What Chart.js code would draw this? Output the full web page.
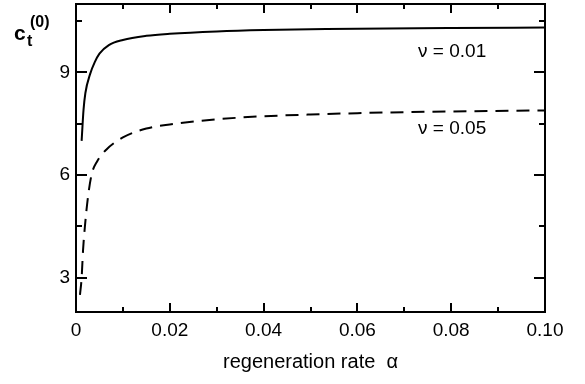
<!DOCTYPE html>
<html>
<head>
<meta charset="utf-8">
<script src="https://cdn.jsdelivr.net/npm/chart.js@4.4.1/dist/chart.umd.min.js"></script>
<style>
  html, body { margin: 0; padding: 0; background: #fff; }
  #wrap { width: 585px; height: 384px; }
</style>
</head>
<body>
<div id="wrap"><canvas id="grafico"></canvas></div>
<script>
// valores
const alphaSolid = [0.0012, 0.0016, 0.002, 0.003, 0.004, 0.005, 0.007, 0.01, 0.015, 0.02, 0.03, 0.04, 0.05, 0.06, 0.08, 0.1];
const cSolid     = [7.0, 7.9, 8.4, 8.95, 9.3, 9.55, 9.8, 9.95, 10.07, 10.13, 10.2, 10.24, 10.26, 10.28, 10.3, 10.31];

const alphaDashed = [0.00085, 0.0012, 0.0015, 0.0019, 0.0025, 0.0033, 0.0045, 0.0065, 0.01, 0.015, 0.02, 0.03, 0.04, 0.05, 0.06, 0.07, 0.08, 0.1];
const cDashed     = [2.5, 3.0, 3.8, 4.5, 5.3, 6.0, 6.4, 6.75, 7.1, 7.36, 7.48, 7.63, 7.72, 7.77, 7.81, 7.84, 7.86, 7.89];

const xTicks = [0, 0.02, 0.04, 0.06, 0.08, 0.10];
const xMinorTicks = [0.01, 0.03, 0.05, 0.07, 0.09];
const yTicks = [3, 6, 9];
const yMinorTicks = [4.5, 7.5, 10.5];

const seriesLabels = ['\u03BD = 0.01', '\u03BD = 0.05'];
const labelPos = [{ x: 0.0802, y: 9.6 }, { x: 0.0802, y: 7.36 }];

const FONT = '"Liberation Sans", Arial, Helvetica, sans-serif';

const pts = (xs, ys) => xs.map((x, i) => ({ x: x, y: ys[i] }));

// moldura, marcas internas e textos
const frame = {
  id: 'frame',
  afterDraw(chart) {
    const c = chart.ctx, a = chart.chartArea;
    const sx = chart.scales.x, sy = chart.scales.y;
    c.save();
    c.strokeStyle = '#000';
    c.lineWidth = 2;
    c.strokeRect(a.left, a.top, a.right - a.left, a.bottom - a.top);
    const tickX = (vals, len) => vals.forEach(v => {
      const p = Math.round(sx.getPixelForValue(v));
      c.beginPath();
      c.moveTo(p, a.bottom); c.lineTo(p, a.bottom - len);
      c.moveTo(p, a.top); c.lineTo(p, a.top + len);
      c.stroke();
    });
    const tickY = (vals, len) => vals.forEach(v => {
      const p = Math.round(sy.getPixelForValue(v));
      c.beginPath();
      c.moveTo(a.left, p); c.lineTo(a.left + len, p);
      c.moveTo(a.right, p); c.lineTo(a.right - len, p);
      c.stroke();
    });
    tickX(xTicks, 9); tickX(xMinorTicks, 5);
    tickY(yTicks, 11); tickY(yMinorTicks, 6);

    c.fillStyle = '#000';
    c.textAlign = 'center';
    c.textBaseline = 'middle';
    c.font = '19px ' + FONT;
    seriesLabels.forEach((t, i) => {
      c.fillText(t, sx.getPixelForValue(labelPos[i].x), sy.getPixelForValue(labelPos[i].y));
    });

    // rótulo do eixo y: c_t^(0)
    c.textAlign = 'left';
    c.textBaseline = 'alphabetic';
    c.font = 'bold 21px ' + FONT;
    c.fillText('c', 14, 40);
    c.font = 'bold 16px ' + FONT;
    c.fillText('t', 27, 46);
    c.fillText('(0)', 30, 27);
    c.restore();
  }
};

new Chart(document.getElementById('grafico'), {
  type: 'line',
  data: {
    datasets: [
      {
        label: seriesLabels[0],
        data: pts(alphaSolid, cSolid),
        borderColor: '#000',
        borderWidth: 2,
        pointRadius: 0,
        cubicInterpolationMode: 'monotone'
      },
      {
        label: seriesLabels[1],
        data: pts(alphaDashed, cDashed),
        borderColor: '#000',
        borderWidth: 2,
        borderDash: [13, 8],
        pointRadius: 0,
        cubicInterpolationMode: 'monotone'
      }
    ]
  },
  options: {
    responsive: true,
    maintainAspectRatio: false,
    animation: false,
    events: [],
    layout: { padding: { top: 4, right: 40, bottom: 0, left: 0 } },
    plugins: { legend: { display: false }, tooltip: { enabled: false } },
    scales: {
      x: {
        type: 'linear',
        min: 0,
        max: 0.1,
        afterBuildTicks: s => { s.ticks = xTicks.map(v => ({ value: v })); },
        afterFit: s => { s.height = 72; s.paddingLeft = 0; s.paddingRight = 0; },
        grid: { display: false, drawTicks: false },
        border: { display: false },
        ticks: {
          color: '#000',
          font: { family: FONT, size: 19 },
          padding: 7,
          maxRotation: 0,
          callback: v => v === 0 ? '0' : v.toFixed(2)
        },
        title: {
          display: true,
          text: 'regeneration rate  \u03B1',
          color: '#000',
          font: { family: FONT, size: 20 },
          padding: { top: 0, bottom: 10 }
        }
      },
      y: {
        type: 'linear',
        min: 2,
        max: 11,
        afterBuildTicks: s => { s.ticks = yTicks.map(v => ({ value: v })); },
        afterFit: s => { s.width = 76; s.paddingTop = 0; s.paddingBottom = 0; },
        grid: { display: false, drawTicks: false },
        border: { display: false },
        ticks: {
          color: '#000',
          font: { family: FONT, size: 19 },
          padding: 6
        }
      }
    }
  },
  plugins: [frame]
});
</script>
</body>
</html>
